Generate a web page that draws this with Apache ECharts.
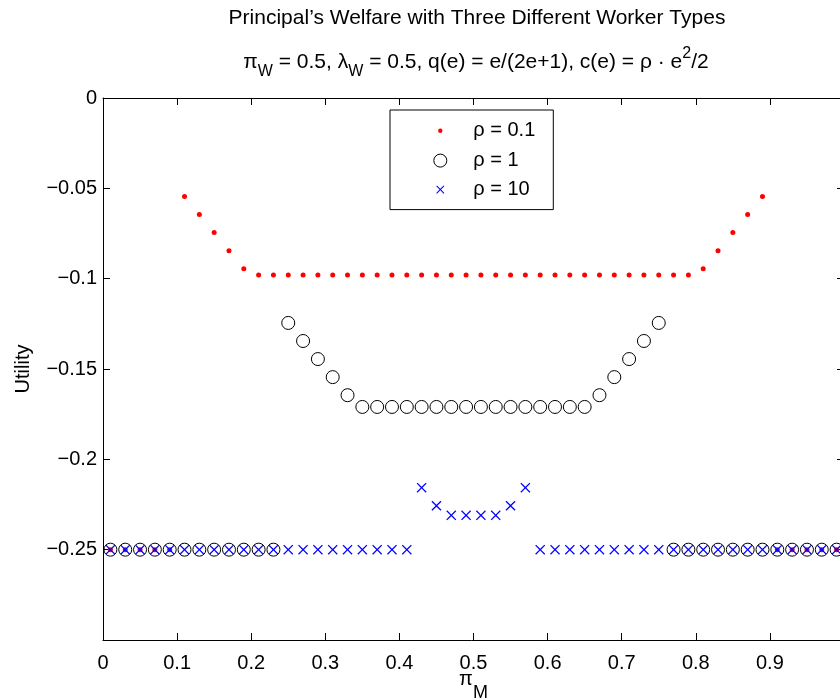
<!DOCTYPE html>
<html>
<head>
<meta charset="utf-8">
<script src="https://cdn.jsdelivr.net/npm/echarts@6/dist/echarts.min.js"></script>
<style>html,body{margin:0;padding:0;background:#fff}#c{width:840px;height:700px}</style>
</head>
<body>
<div id="c"></div>
<script>
// ---- data ----
const piM = [0.01,0.03,0.05,0.07,0.09,0.11,0.13,0.15,0.17,0.19,
             0.21,0.23,0.25,0.27,0.29,0.31,0.33,0.35,0.37,0.39,
             0.41,0.43,0.45,0.47,0.49,0.51,0.53,0.55,0.57,0.59,
             0.61,0.63,0.65,0.67,0.69,0.71,0.73,0.75,0.77,0.79,
             0.81,0.83,0.85,0.87,0.89,0.91,0.93,0.95,0.97,0.99];
const rho01 = [-0.25,-0.25,-0.25,-0.25,-0.25,-0.0545,-0.0645,-0.0745,-0.0845,-0.0945,
               -0.098,-0.098,-0.098,-0.098,-0.098,-0.098,-0.098,-0.098,-0.098,-0.098,
               -0.098,-0.098,-0.098,-0.098,-0.098,-0.098,-0.098,-0.098,-0.098,-0.098,
               -0.098,-0.098,-0.098,-0.098,-0.098,-0.098,-0.098,-0.098,-0.098,-0.098,
               -0.0945,-0.0845,-0.0745,-0.0645,-0.0545,-0.25,-0.25,-0.25,-0.25,-0.25];
const rho1 = [-0.25,-0.25,-0.25,-0.25,-0.25,-0.25,-0.25,-0.25,-0.25,-0.25,
              -0.25,-0.25,-0.1245,-0.1345,-0.1445,-0.1545,-0.1645,-0.171,-0.171,-0.171,
              -0.171,-0.171,-0.171,-0.171,-0.171,-0.171,-0.171,-0.171,-0.171,-0.171,
              -0.171,-0.171,-0.171,-0.1645,-0.1545,-0.1445,-0.1345,-0.1245,-0.25,-0.25,
              -0.25,-0.25,-0.25,-0.25,-0.25,-0.25,-0.25,-0.25,-0.25,-0.25];
const rho10 = [-0.25,-0.25,-0.25,-0.25,-0.25,-0.25,-0.25,-0.25,-0.25,-0.25,
               -0.25,-0.25,-0.25,-0.25,-0.25,-0.25,-0.25,-0.25,-0.25,-0.25,
               -0.25,-0.2157,-0.2257,-0.231,-0.231,-0.231,-0.231,-0.2257,-0.2157,-0.25,
               -0.25,-0.25,-0.25,-0.25,-0.25,-0.25,-0.25,-0.25,-0.25,-0.25,
               -0.25,-0.25,-0.25,-0.25,-0.25,-0.25,-0.25,-0.25,-0.25,-0.25];
const seriesNames = ['ρ = 0.1', 'ρ = 1', 'ρ = 10'];
const titleText = 'Principal\u2019s Welfare with Three Different Worker Types';
const xName = 'π';
const xNameSub = 'M';
const yName = 'Utility';

// ---- chart ----
const FONT = '"Liberation Sans", Arial, Helvetica, sans-serif';
const pair = ys => piM.map((x, i) => [x, ys[i]]);
const fmt = v => String(+(+v).toFixed(4)).replace('-', '\u2212');
const X_SHAPE = 'M0,0.9L0.9,0L5,4.1L9.1,0L10,0.9L5.9,5L10,9.1L9.1,10L5,5.9L0.9,10L0,9.1L4.1,5Z';
const X_PATH = 'path://' + X_SHAPE;
const X_LEGEND = 'path://M-3,-3L-3,-3ZM13,13L13,13Z' + X_SHAPE;

const chart = echarts.init(document.getElementById('c'), null, {renderer: 'canvas'});
const axisCommon = {
  axisLine: {show: true, onZero: false, lineStyle: {color: '#000', width: 1}},
  axisTick: {show: true, inside: true, length: 7, lineStyle: {color: '#000', width: 1}},
  splitLine: {show: false}
};
chart.setOption({
  animation: false,
  backgroundColor: '#fff',
  textStyle: {fontFamily: FONT},
  grid: {left: 103, top: 98, width: 741, height: 542, containLabel: false, outerBoundsMode: 'none'},
  graphic: [
    {type: 'text', x: 477, y: 8, silent: true,
     style: {text: titleText, fill: '#000', font: '21px ' + FONT, align: 'center', verticalAlign: 'top'}},
    {type: 'text', x: 476, y: 44, silent: true,
     style: {
       text: '{n|π}{s|W}{n| = 0.5, λ}{s|W}{n| = 0.5, q(e) = e/(2e+1), c(e) = ρ · e}{u|2}{n|/2}',
       align: 'center', verticalAlign: 'top', fill: '#000',
       rich: {
         n: {fontSize: 21, fontFamily: FONT, lineHeight: 36, verticalAlign: 'middle', fill: '#000'},
         s: {fontSize: 16, fontFamily: FONT, verticalAlign: 'bottom', fill: '#000'},
         u: {fontSize: 16, fontFamily: FONT, verticalAlign: 'top', padding: [2, 0, 0, 0], fill: '#000'}
       }
     }}
  ],
  legend: {
    left: 390, top: 110, orient: 'vertical',
    backgroundColor: '#fff', borderColor: '#000', borderWidth: 1, borderRadius: 0,
    padding: [10, 14, 10, 39.5],
    itemWidth: 13, itemHeight: 13, itemGap: 9,
    selectedMode: false,
    textStyle: {fontSize: 20, fontFamily: FONT, color: '#000', lineHeight: 20, padding: [0, 0, 0, 21.5], width: 66},
    data: [
      {name: seriesNames[0], itemStyle: {borderColor: '#fff', borderWidth: 8.6}},
      {name: seriesNames[1], itemStyle: {borderWidth: 1}},
      {name: seriesNames[2], icon: X_LEGEND}
    ]
  },
  xAxis: [
    Object.assign({}, axisCommon, {
      type: 'value', position: 'bottom', min: 0, max: 1, interval: 0.1,
      axisLabel: {show: true, fontSize: 20, fontFamily: FONT, color: '#000', margin: 13, showMaxLabel: false, formatter: fmt},
      name: '{p|' + xName + '}{s|' + xNameSub + '}', nameLocation: 'middle', nameGap: 16,
      nameMoveOverlap: false,
      nameTextStyle: {
        rich: {
          p: {fontSize: 20, fontFamily: FONT, color: '#000', lineHeight: 46, verticalAlign: 'middle'},
          s: {fontSize: 18, fontFamily: FONT, color: '#000', verticalAlign: 'bottom'}
        }
      }
    }),
    Object.assign({}, axisCommon, {
      type: 'value', position: 'top', min: 0, max: 1, interval: 0.1,
      axisLabel: {show: false}
    })
  ],
  yAxis: [
    Object.assign({}, axisCommon, {
      type: 'value', position: 'left', min: -0.3, max: 0, interval: 0.05,
      axisLabel: {show: true, fontSize: 20, fontFamily: FONT, color: '#000', margin: 6, showMinLabel: false, formatter: fmt},
      name: yName, nameLocation: 'middle', nameGap: 70, nameRotate: 90, nameMoveOverlap: false,
      nameTextStyle: {fontSize: 20, fontFamily: FONT, color: '#000'}
    }),
    Object.assign({}, axisCommon, {
      type: 'value', position: 'right', min: -0.3, max: 0, interval: 0.05,
      axisLabel: {show: false}
    })
  ],
  series: [
    {name: seriesNames[0], type: 'scatter', data: pair(rho01), symbol: 'circle', symbolSize: 5,
     itemStyle: {color: '#ff0000', opacity: 1}, emphasis: {disabled: true}, clip: true},
    {name: seriesNames[1], type: 'scatter', data: pair(rho1), symbol: 'circle', symbolSize: 13,
     itemStyle: {color: 'rgba(255,255,255,0)', borderColor: '#000', borderWidth: 1, opacity: 1}, emphasis: {disabled: true}, clip: true},
    {name: seriesNames[2], type: 'scatter', data: pair(rho10), symbol: X_PATH, symbolSize: 10,
     itemStyle: {color: '#0000ff', opacity: 1}, emphasis: {disabled: true}, clip: true}
  ]
});
</script>
</body>
</html>
